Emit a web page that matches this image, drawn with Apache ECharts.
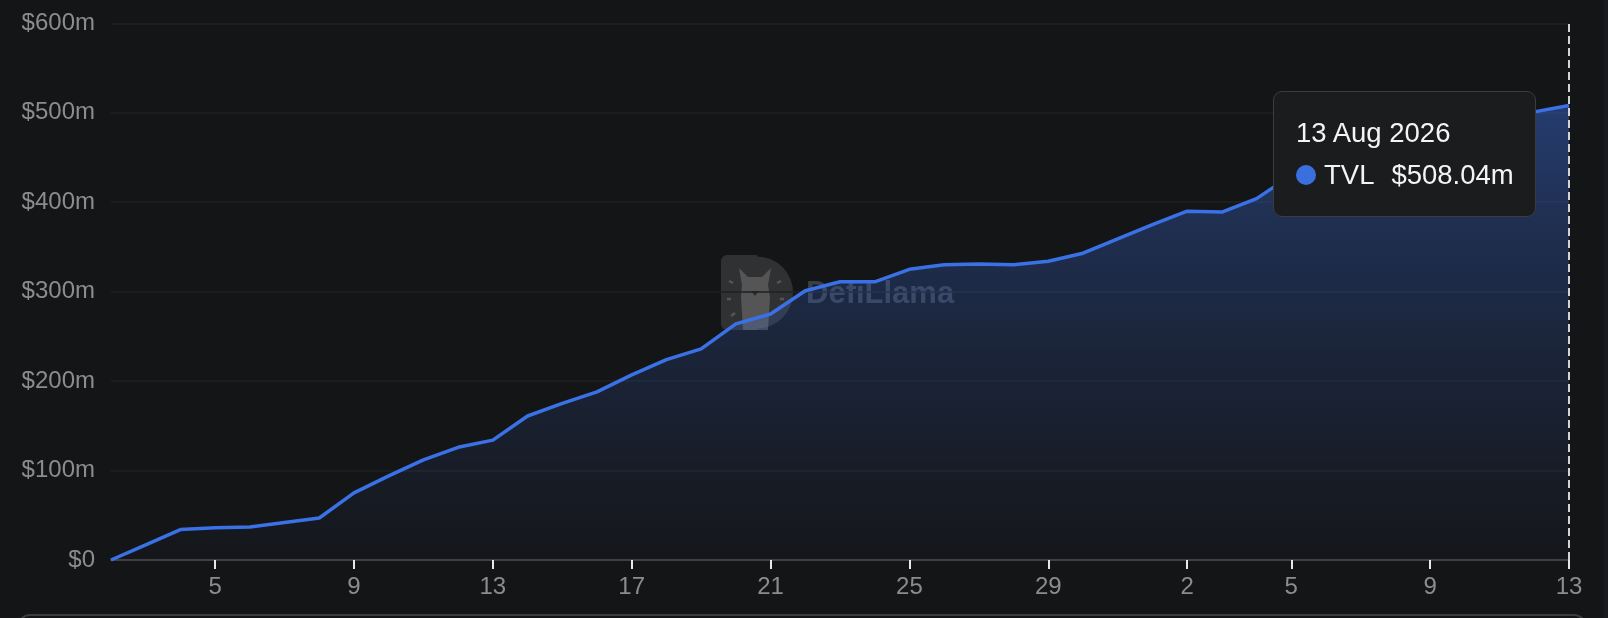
<!DOCTYPE html>
<html>
<head>
<meta charset="utf-8">
<script src="https://cdn.jsdelivr.net/npm/echarts@6/dist/echarts.min.js"></script>
<style>
  html, body { margin: 0; padding: 0; background: #141517; }
  #chart { width: 1608px; height: 618px; }
</style>
</head>
<body>
<div id="chart"></div>
<script>
// ---- data ----
const dates = [
  '2026-07-02','2026-07-03','2026-07-04','2026-07-05','2026-07-06','2026-07-07','2026-07-08',
  '2026-07-09','2026-07-10','2026-07-11','2026-07-12','2026-07-13','2026-07-14','2026-07-15',
  '2026-07-16','2026-07-17','2026-07-18','2026-07-19','2026-07-20','2026-07-21','2026-07-22',
  '2026-07-23','2026-07-24','2026-07-25','2026-07-26','2026-07-27','2026-07-28','2026-07-29',
  '2026-07-30','2026-07-31','2026-08-01','2026-08-02','2026-08-03','2026-08-04','2026-08-05',
  '2026-08-06','2026-08-07','2026-08-08','2026-08-09','2026-08-10','2026-08-11','2026-08-12',
  '2026-08-13'
];
// TVL in millions of USD
const tvl = [
  0, 17, 34, 36, 37, 42, 47,
  75, 94, 112, 126, 134, 161, 175,
  188, 207, 224, 236, 264, 275, 301,
  311, 311, 325, 330, 331, 330, 334,
  343, 359, 375, 390, 389, 404, 430,
  442, 454, 465, 475, 485, 494, 501,
  508.04
];
const xTickDates = ['2026-07-05','2026-07-09','2026-07-13','2026-07-17','2026-07-21','2026-07-25',
                    '2026-07-29','2026-08-02','2026-08-05','2026-08-09','2026-08-13'];
const yMin = 0, yMax = 600, yStep = 100;
const seriesName = 'TVL';

const monthNames = ['Jan','Feb','Mar','Apr','May','Jun','Jul','Aug','Sep','Oct','Nov','Dec'];
const FONT = "'Liberation Sans', Arial, Helvetica, sans-serif";

function fmtLongDate(s) {
  const p = s.split('-');
  return parseInt(p[2], 10) + ' ' + monthNames[parseInt(p[1], 10) - 1] + ' ' + p[0];
}
function fmtMoney(v) {
  return v === 0 ? '$0' : '$' + v + 'm';
}
const isTick = (idx, val) => xTickDates.indexOf(dates[idx]) >= 0;

const chart = echarts.init(document.getElementById('chart'), null, { renderer: 'canvas' });

const wmFill = 'rgba(95,95,95,0.38)';
const wmLight = 'rgba(130,130,130,0.45)';

const option = {
  animation: false,
  backgroundColor: '#141517',
  grid: { left: 111, right: 39, top: 23.3, bottom: 58, containLabel: false, outerBoundsMode: 'none' },
  xAxis: {
    type: 'category',
    data: dates,
    boundaryGap: false,
    axisLine: { show: true, lineStyle: { color: '#4b4c4f', width: 1.5 } },
    axisTick: { show: true, interval: isTick, length: 9, lineStyle: { color: '#e8e8e8', width: 2 } },
    axisLabel: {
      interval: isTick,
      margin: 15,
      color: '#8c8c8e',
      fontSize: 24,
      fontFamily: FONT,
      formatter: (v) => String(parseInt(v.split('-')[2], 10))
    },
    splitLine: { show: false }
  },
  yAxis: {
    type: 'value',
    min: yMin, max: yMax, interval: yStep,
    axisLine: { show: false },
    axisTick: { show: false },
    axisLabel: { margin: 16, color: '#8c8c8e', fontSize: 24, fontFamily: FONT, formatter: fmtMoney },
    splitLine: { show: true, lineStyle: { color: '#1f2023', width: 1.5 } }
  },
  tooltip: {
    trigger: 'axis',
    triggerOn: 'none',
    alwaysShowContent: true,
    transitionDuration: 0,
    backgroundColor: '#1b1c1e',
    borderColor: '#3b3c3f',
    borderWidth: 1.5,
    padding: [20, 21, 20, 22],
    extraCssText: 'border-radius:9px;box-shadow:none;',
    position: function () { return [1273, 91]; },
    axisPointer: {
      type: 'line',
      lineStyle: { color: '#d4d4d4', width: 2, type: [8, 4] },
      label: { show: false }
    },
    formatter: function (params) {
      const p = params[0];
      return '<div style="font-family:Liberation Sans, Arial, Helvetica, sans-serif;font-size:27.5px;color:#f4f4f4;line-height:42px;">' +
        '<div>' + fmtLongDate(p.name) + '</div>' +
        '<div style="display:flex;align-items:center;height:42px;">' +
        '<span style="display:inline-block;width:20px;height:20px;border-radius:50%;background:#3b6fe0;margin-right:8px;"></span>' +
        '<span>' + p.seriesName + '</span>' +
        '<span style="margin-left:17px;">' + fmtMoney(p.value) + '</span>' +
        '</div></div>';
    }
  },
  graphic: [
    // watermark logo
    {
      type: 'group', x: 721, y: 255, z: 0, silent: true,
      children: [
        { type: 'rect', shape: { x: 0, y: 0, width: 36, height: 75, r: [6, 0, 0, 6] }, style: { fill: wmFill } },
        { type: 'sector', shape: { cx: 36, cy: 37.5, r0: 0, r: 36, startAngle: -Math.PI / 2, endAngle: Math.PI / 2, clockwise: true },
          style: { fill: wmFill } },
        { type: 'polygon', shape: { points: [[21,30],[18,13],[27,22],[41,22],[50,13],[47,30],[49,42],[47,75],[22,75],[20,42]] },
          style: { fill: wmLight } },
        { type: 'polygon', shape: { points: [[30,36],[38,36],[34,41]] }, style: { fill: 'rgba(30,30,30,0.7)' } },
        { type: 'line', shape: { x1: 8, y1: 26, x2: 12, y2: 28 }, style: { stroke: wmLight, lineWidth: 2.5 } },
        { type: 'line', shape: { x1: 6, y1: 44, x2: 10, y2: 44 }, style: { stroke: wmLight, lineWidth: 2.5 } },
        { type: 'line', shape: { x1: 10, y1: 61, x2: 14, y2: 58 }, style: { stroke: wmLight, lineWidth: 2.5 } },
        { type: 'line', shape: { x1: 56, y1: 28, x2: 60, y2: 26 }, style: { stroke: wmLight, lineWidth: 2.5 } },
        { type: 'line', shape: { x1: 59, y1: 44, x2: 63, y2: 44 }, style: { stroke: wmLight, lineWidth: 2.5 } }
      ]
    },
    {
      type: 'text', x: 806, y: 279, z: 0, silent: true,
      style: { text: 'DefiLlama', fill: 'rgba(140,150,172,0.32)', font: 'bold 31px ' + FONT }
    },
    // bottom container edge
    {
      type: 'rect', silent: true, z: 0,
      shape: { x: 18, y: 615, width: 1568, height: 40, r: 12 },
      style: { fill: 'none', stroke: '#3c3d40', lineWidth: 2 }
    },
    // right edge strip
    {
      type: 'rect', silent: true, z: 0,
      shape: { x: 1604, y: 0, width: 4, height: 618 },
      style: { fill: '#1a1b1e' }
    }
  ],
  series: [{
    name: seriesName,
    type: 'line',
    data: tvl,
    symbol: 'none',
    showSymbol: false,
    z: 3,
    lineStyle: { color: '#3a71e6', width: 3.5 },
    itemStyle: { color: '#3b6fe0' },
    areaStyle: {
      color: {
        type: 'linear', x: 0, y: 0, x2: 0, y2: 1,
        colorStops: [
          { offset: 0, color: 'rgba(59,111,224,0.62)' },
          { offset: 0.25, color: 'rgba(59,111,224,0.42)' },
          { offset: 0.55, color: 'rgba(59,111,224,0.24)' },
          { offset: 1, color: 'rgba(59,111,224,0.02)' }
        ]
      }
    },
    emphasis: { disabled: true }
  }]
};

chart.setOption(option);
function showTip() {
  chart.dispatchAction({ type: 'showTip', seriesIndex: 0, dataIndex: dates.length - 1 });
}
showTip();
setTimeout(showTip, 50);
</script>
</body>
</html>
